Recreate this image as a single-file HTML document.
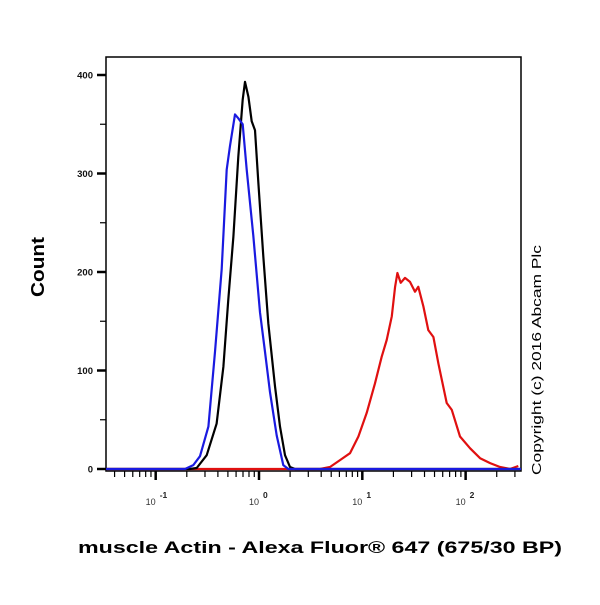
<!DOCTYPE html>
<html><head><meta charset="utf-8"><style>
body{margin:0;background:#fff}
svg text{font-family:"Liberation Sans",Arial,sans-serif}
</style></head><body>
<svg id="c" width="600" height="600" viewBox="0 0 600 600">
<rect x="0" y="0" width="600" height="600" fill="#fff"/>
<g id="plot"></g>
<text x="44" y="267" transform="rotate(-90 44 267)" text-anchor="middle" font-size="18" font-weight="bold" textLength="60" lengthAdjust="spacingAndGlyphs">Count</text>
<text x="78" y="553" font-size="17" font-weight="bold" textLength="484" lengthAdjust="spacingAndGlyphs">muscle Actin - Alexa Fluor® 647 (675/30 BP)</text>
<text x="541" y="475" transform="rotate(-90 541 475)" font-size="12.5" textLength="230" lengthAdjust="spacingAndGlyphs">Copyright (c) 2016 Abcam Plc</text>
</svg>
<script>
const yTicks=[0,100,200,300,400];
const xDecades=[-1,0,1,2];
const blackX=[-1.481,-0.67,-0.603,-0.506,-0.410,-0.345,-0.297,-0.248,-0.200,-0.158,-0.136,-0.103,-0.071,-0.039,-0.006,0.042,0.090,0.155,0.203,0.252,0.300,0.348,2.536];
const blackY=[0,0,1,14,46,104,172,236,317,375,393,378,353,344,290,216,148,84,43,14,2,0,0];
const blueX=[-1.481,-0.716,-0.636,-0.571,-0.490,-0.426,-0.361,-0.313,-0.281,-0.232,-0.200,-0.158,-0.119,-0.055,0.010,0.058,0.106,0.171,0.235,0.284,2.536];
const blueY=[0,0,4,13,43,119,203,304,328,360,356,350,304,237,159,119,78,34,4,0,0];
const redX=[-1.481,0.397,0.591,0.687,0.784,0.881,0.962,1.042,1.123,1.188,1.236,1.285,1.317,1.340,1.372,1.413,1.462,1.510,1.542,1.591,1.639,1.688,1.736,1.817,1.866,1.946,2.043,2.140,2.237,2.333,2.430,2.510];
const redY=[0,0,0,2,9,16,33,57,87,114,131,155,185,199,189,194,190,180,185,165,141,134,107,67,60,33,21,11,6,2,0,3];
const L=106,R=521,T=57,B=469;
const xMin=-1.481,xMax=2.536;
function sx(v){return L+(v-xMin)/(xMax-xMin)*(R-L);}
function sy(v){return B-v*0.985;}
const NS="http://www.w3.org/2000/svg";
const g=document.getElementById('plot');
function mk(t,a){const e=document.createElementNS(NS,t);for(const k in a)e.setAttribute(k,a[k]);g.appendChild(e);return e;}
let e=mk('rect',{x:L,y:T,width:R-L,height:471-T,fill:'none',stroke:'#000','stroke-width':1.5});


for(let v=0;v<=400;v+=50){
 const major=v%100===0;
 e=mk('line',{x1:L-(major?9:6),x2:L,y1:sy(v),y2:sy(v),stroke:'#000','stroke-width':major?2.5:1.2});
 
 
}
yTicks.forEach(v=>{
 e=mk('text',{x:L-13,y:sy(v)+3.5,'text-anchor':'end','font-size':9.5,'font-weight':'bold',fill:'#111'});
 e.textContent=v;
 
 
});
for(let d=-2;d<=2;d++){
 for(let m=1;m<10;m++){
  const lv=d+Math.log10(m);
  if(lv<xMin||lv>xMax)continue;
  const major=m===1;
  e=mk('line',{x1:sx(lv),x2:sx(lv),y1:471,y2:471+(major?9:6),stroke:'#000','stroke-width':major?2.5:1.2});
  
  
 }
}
xDecades.forEach(d=>{
 e=mk('text',{x:sx(d)-5,y:505,'text-anchor':'middle','font-size':9,fill:'#333'});
 e.textContent='10';
 
 
 e=mk('text',{x:sx(d)+4,y:498,'text-anchor':'start','font-size':8.5,'font-weight':'bold',fill:'#222'});
 e.textContent=String(d);
 
 
});
function line(xs,ys,col,name){
 const p=xs.map((x,i)=>(i?'L':'M')+sx(x).toFixed(1)+' '+sy(ys[i]).toFixed(1)).join(' ');
 const el=mk('path',{d:p,fill:'none',stroke:col,'stroke-width':2.2,'stroke-linejoin':'round'});
 
 
}
line(redX,redY,'#e01010','series-red-stained');
line(blackX,blackY,'#000','series-black-control');
line(blueX,blueY,'#1a1ae0','series-blue-isotype');
</script>
</body></html>
